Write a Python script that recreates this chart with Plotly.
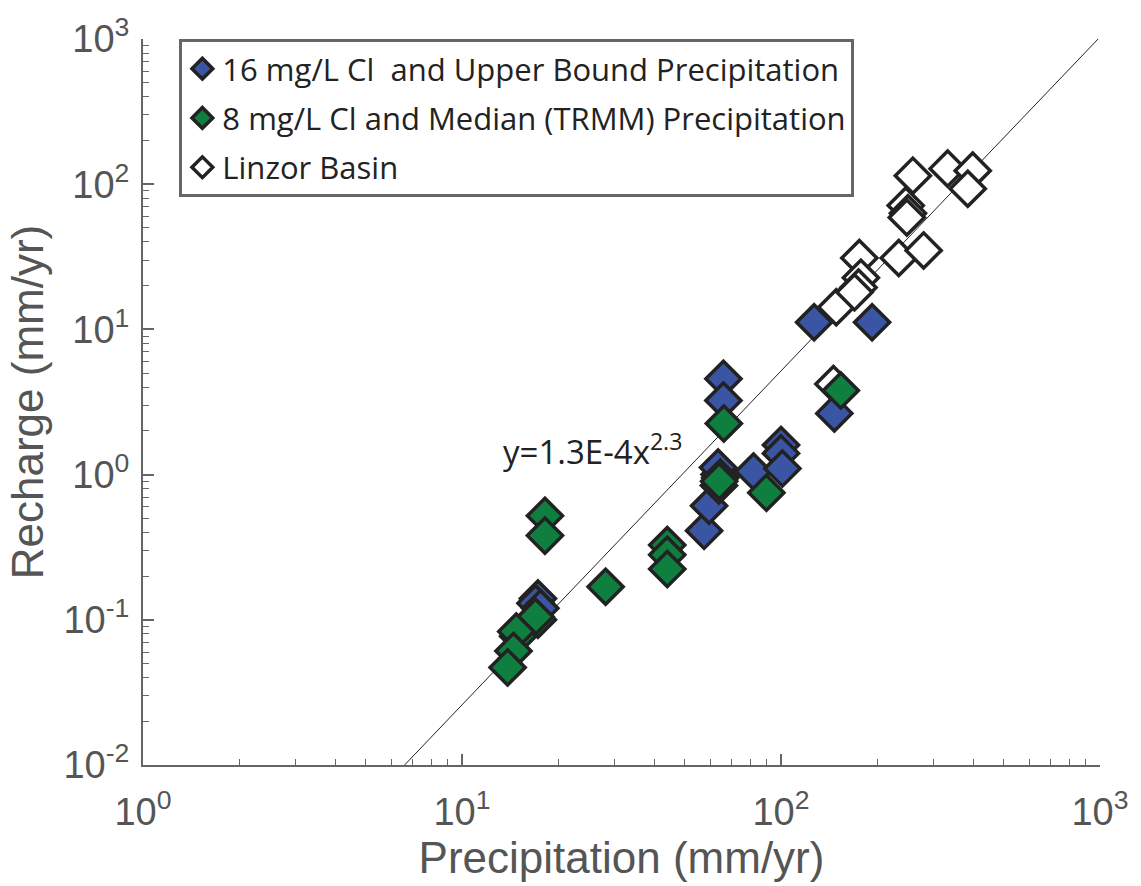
import plotly.graph_objects as go
import numpy as np

# 16 mg/L Cl and Upper Bound Precipitation
blue_x = [17.3, 17.0, 17.6, 57.4, 59.5, 63.9, 64.2, 63.5, 64.5, 66.0, 66.0, 82.0, 100.0, 100.0, 101.0, 127.0, 193.0, 147.0]
blue_y = [0.140, 0.130, 0.120, 0.41, 0.61, 0.84, 1.00, 1.12, 0.95, 4.57, 3.24, 1.05, 1.60, 1.40, 1.10, 11.2, 11.2, 2.64]

# 8 mg/L Cl and Median (TRMM) Precipitation
green_x = [18.2, 18.2, 17.3, 17.0, 15.0, 14.8, 14.5, 13.9, 28.2, 44.0, 44.0, 44.0, 66.2, 90.0, 154.0, 64.0]
green_y = [0.52, 0.38, 0.100, 0.105, 0.077, 0.083, 0.061, 0.047, 0.169, 0.327, 0.28, 0.224, 2.25, 0.75, 3.79, 0.90]

# Linzor Basin
linzor_x = [259, 246, 250, 248, 333, 399, 385, 176, 178, 175, 149, 234, 280, 146, 170]
linzor_y = [114.5, 71.4, 63, 59, 128, 124, 93, 31, 22.7, 19.4, 14.2, 31, 35, 4.2, 18]

# Power-law fit  y = a * x^b
fit_a = 1.3e-4
fit_b = 2.3
fit_x = np.array([1.0, 1000.0])
fit_y = fit_a * fit_x ** fit_b

# Tick labels
x_tick_exp = [0, 1, 2, 3]
y_tick_exp = [-2, -1, 0, 1, 2, 3]


def tick_text(e):
    return "10<sup>%d</sup>" % e


def minor_vals(e0, e1):
    return [m * 10.0 ** e for e in range(e0, e1) for m in range(2, 10)]


blue = "#3B55A5"
green = "#0F7F3F"
edge = "#222222"
gray = "#555555"
msize = 27
mline = 3.5
font_main = "Arial, Liberation Sans, Helvetica, sans-serif"

fig = go.Figure()
fig.add_trace(go.Scatter(x=fit_x, y=fit_y, mode="lines", line=dict(color="#222", width=1),
                         showlegend=False, hoverinfo="skip"))
fig.add_trace(go.Scatter(x=linzor_x, y=linzor_y, mode="markers", name="Linzor Basin",
                         legendrank=3, legendgroup="c",
                         marker=dict(symbol="diamond", size=msize, color="white",
                                     line=dict(color=edge, width=mline))))
fig.add_trace(go.Scatter(x=blue_x, y=blue_y, mode="markers",
                         name="16 mg/L Cl  and Upper Bound Precipitation",
                         legendrank=1, legendgroup="a",
                         marker=dict(symbol="diamond", size=msize, color=blue,
                                     line=dict(color=edge, width=mline))))
fig.add_trace(go.Scatter(x=green_x, y=green_y, mode="markers",
                         name="8 mg/L Cl and Median (TRMM) Precipitation",
                         legendrank=2, legendgroup="b",
                         marker=dict(symbol="diamond", size=msize, color=green,
                                     line=dict(color=edge, width=mline))))

fig.add_annotation(x=np.log10(25.7), y=np.log10(1.48), xref="x", yref="y",
                   text="y=1.3E-4x<sup>2.3</sup>", showarrow=False,
                   font=dict(family="Open Sans", size=33, color="#222"))

axis_common = dict(type="log", tickmode="array", showgrid=False, zeroline=False,
                   showline=True, linecolor="#666", linewidth=2, ticks="inside", ticklen=11,
                   tickcolor="#666", tickwidth=1.5, mirror=False,
                   tickfont=dict(family=font_main, size=38, color=gray))

fig.update_xaxes(**axis_common, range=[0, 3],
                 tickvals=[10.0 ** e for e in x_tick_exp],
                 ticktext=[tick_text(e) for e in x_tick_exp],
                 ticklabelstandoff=12,
                 minor=dict(tickvals=minor_vals(0, 3), ticks="inside", ticklen=6,
                            tickcolor="#666", tickwidth=1.2, showgrid=False),
                 title=dict(text="Precipitation (mm/yr)", standoff=10,
                            font=dict(family=font_main, size=44, color=gray)))
fig.update_yaxes(**axis_common, range=[-2, 3],
                 tickvals=[10.0 ** e for e in y_tick_exp],
                 ticktext=[tick_text(e) for e in y_tick_exp],
                 ticklabelstandoff=4,
                 minor=dict(tickvals=minor_vals(-2, 3), ticks="inside", ticklen=6,
                            tickcolor="#666", tickwidth=1.2, showgrid=False),
                 title=dict(text="Recharge (mm/yr)", standoff=6,
                            font=dict(family=font_main, size=44, color=gray)))

fig.update_layout(
    width=1141, height=886,
    margin=dict(l=143, r=36, t=32, b=121),
    plot_bgcolor="white", paper_bgcolor="white",
    legend=dict(x=0.038, y=1.0, xanchor="left", yanchor="top",
                bordercolor="#666", borderwidth=3, bgcolor="white",
                font=dict(family="Open Sans", size=31, color="#222"),
                tracegroupgap=6, itemsizing="trace"),
)

fig.write_html("out.html")
